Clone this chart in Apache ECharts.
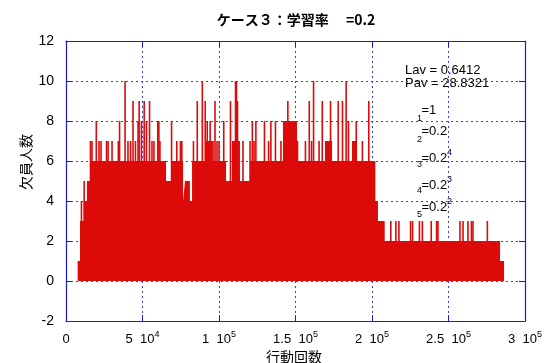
<!DOCTYPE html>
<html>
<head>
<meta charset="utf-8">
<script src="https://cdn.jsdelivr.net/npm/echarts@6/dist/echarts.min.js"></script>
<style>
  html, body { margin: 0; padding: 0; background: #fff; }
  #chart { width: 549px; height: 363px; }
</style>
</head>
<body>
<div id="chart"></div>
<script>
// Solid band of vacancies: level held from each step until the next one
const baseStep = [7600, 9150, 11600, 13700, 15700, 65400, 68600, 76500, 77800, 81000,
  82400, 90900, 95700, 104600, 108500, 113700, 120300, 141800, 151000, 169300,
  173900, 186900, 190200, 202200, 203900, 208300, 283700, 286300];
const baseLevel = [1, 3, 4, 5, 6, 5, 6, 4, 5, 4,
  6, 7, 6, 5, 7, 5, 6, 8, 6, 7,
  6, 7, 6, 4, 3, 2, 1, 1];

// Isolated peaks rising above the band
const spikeStep = [10100, 11900, 16000, 17000, 19800, 21600, 22900, 26500, 27500, 30100,
  34200, 35000, 38600, 40500, 42200, 43800, 45400, 47100, 47800, 49300,
  51100, 52600, 54600, 56200, 57500, 60000, 60700, 61400, 69000, 72400,
  74800, 75700, 83300, 85800, 89100, 91000, 92300, 94200, 95100, 96100,
  97400, 98700, 100000, 103100, 107500, 110800, 111400, 112100, 115700, 120300,
  121800, 122900, 124100, 129700, 132400, 133900, 136900, 140500, 145000, 151300,
  156500, 159000, 160500, 161800, 165400, 167500, 172900, 177900, 180700, 183100,
  184600, 189700, 193700, 197900, 212300, 215600, 217600, 225200, 226500, 231000,
  232900, 238700, 242200, 243100, 257500, 259500, 262700, 265000, 266000, 275400];
const spikeValue = [4, 5, 7, 7, 8, 7, 7, 7, 7, 7,
  7, 8, 10, 7, 7, 9, 7, 8, 9, 8,
  9, 8, 9, 7, 7, 8, 8, 7, 8, 7,
  7, 7, 7, 9, 10, 9, 8, 8, 7, 7,
  9, 7, 7, 8, 9, 10, 10, 9, 7, 7,
  8, 7, 8, 8, 7, 8, 8, 7, 9, 7,
  7, 9, 7, 10, 7, 9, 9, 9, 9, 10,
  8, 8, 7, 9, 3, 3, 3, 3, 3, 3,
  3, 3, 3, 3, 3, 3, 3, 3, 3, 3];

// Tick labels: mantissa and power of ten
const xTickMant = ['0', '5', '1', '1.5', '2', '2.5', '3'];
const xTickExp = ['', '4', '5', '5', '5', '5', '5'];
const yTicks = [-2, 0, 2, 4, 6, 8, 10, 12];

const titleText = 'ケース３：学習率　 =0.2';
const xName = '行動回数';
const yName = '欠員人数';
const statLines = ['Lav = 0.6412', 'Pav = 28.8321'];
const paramSub = ['1', '2', '3', '4', '5'];
const paramVal = ['=1', '=0.2', '=0.2', '=0.2', '=0.2'];
const paramPow = ['', '', '4', '3', '2'];

const RED = '#dd0a0a';
const BLUE = '#1a1ad6';
const GRID = '#3a3ae6';
const LATIN = '"Liberation Sans", Arial, sans-serif';
const CJK = '"Noto Sans CJK JP", sans-serif';

const chart = echarts.init(document.getElementById('chart'), null, { renderer: 'canvas' });

const baseData = baseStep.map((s, i) => [s, baseLevel[i]]);
const spikeData = spikeStep.map((s, i) => [s, spikeValue[i]]);

const axisCommon = {
  type: 'value',
  axisLine: { show: true, onZero: false, lineStyle: { color: BLUE, width: 1.2 } },
  axisTick: { show: true, inside: true, length: 6, lineStyle: { color: BLUE } },
};

// Parameter legend drawn as plain text with sub/superscripts
const paramY = [110, 131, 158, 185, 207];
const subY = [119, 140, 164.5, 190.5, 214.5];
const graphics = [];
graphics.push({ type: 'text', x: 296, y: 20, style: {
  text: titleText, font: 'bold 14px ' + CJK, fill: '#000', align: 'center', verticalAlign: 'middle' } });
graphics.push({ type: 'text', x: 294, y: 357, style: {
  text: xName, font: '14px ' + CJK, fill: '#000', align: 'center', verticalAlign: 'middle' } });
graphics.push({ type: 'text', x: 26, y: 162, rotation: Math.PI / 2, style: {
  text: yName, font: '14px ' + CJK, fill: '#000', align: 'center', verticalAlign: 'middle' } });
statLines.forEach((t, i) => {
  graphics.push({ type: 'text', x: 405, y: 70 + i * 13.5, style: {
    text: t, font: '13px ' + LATIN, fill: '#000', verticalAlign: 'middle' } });
});
paramVal.forEach((t, i) => {
  graphics.push({ type: 'text', x: 417, y: subY[i], style: {
    text: paramSub[i], font: '9px ' + LATIN, fill: '#000', verticalAlign: 'middle' } });
  graphics.push({ type: 'text', x: 421.5, y: paramY[i], style: {
    text: t, font: '13px ' + LATIN, fill: '#000', verticalAlign: 'middle' } });
  if (paramPow[i]) {
    graphics.push({ type: 'text', x: 447, y: paramY[i] - 5, style: {
      text: paramPow[i], font: '9px ' + LATIN, fill: '#000', verticalAlign: 'middle' } });
  }
});

chart.setOption({
  animation: false,
  backgroundColor: '#fff',
  grid: { left: 66, right: 24, top: 41, bottom: 42, containLabel: false },
  xAxis: [
    Object.assign({}, axisCommon, {
      position: 'bottom', min: 0, max: 300000, interval: 50000,
      splitLine: { show: true, lineStyle: { color: GRID, type: [2, 3], width: 1 } },
      axisLabel: {
        margin: 9,
        formatter: (v) => {
          const k = Math.round(v / 50000);
          return xTickExp[k] ? '{b|' + xTickMant[k] + '  10}{s|' + xTickExp[k] + '}' : '{b|' + xTickMant[k] + '}';
        },
        rich: {
          b: { fontFamily: LATIN, fontSize: 13, lineHeight: 16, color: '#000', verticalAlign: 'bottom' },
          s: { fontFamily: LATIN, fontSize: 9, lineHeight: 10, color: '#000', verticalAlign: 'top' }
        }
      }
    }),
    Object.assign({}, axisCommon, {
      position: 'top', min: 0, max: 300000, interval: 50000,
      splitLine: { show: false }, axisLabel: { show: false }
    })
  ],
  yAxis: [
    Object.assign({}, axisCommon, {
      position: 'left', min: yTicks[0], max: yTicks[yTicks.length - 1], interval: 2,
      splitLine: { show: true, lineStyle: { color: GRID, type: [2, 3], width: 1 } },
      axisLabel: { margin: 12, color: '#000', fontFamily: LATIN, fontSize: 14 }
    }),
    Object.assign({}, axisCommon, {
      position: 'right', min: yTicks[0], max: yTicks[yTicks.length - 1], interval: 2,
      splitLine: { show: false }, axisLabel: { show: false }
    })
  ],
  series: [
    {
      type: 'line', step: 'end', data: baseData, symbol: 'none',
      lineStyle: { width: 0, color: RED }, areaStyle: { color: RED, opacity: 1 },
      xAxisIndex: 0, yAxisIndex: 0, zlevel: 1
    },
    {
      type: 'custom', data: spikeData, xAxisIndex: 0, yAxisIndex: 0, zlevel: 1,
      encode: { x: 0, y: 1 },
      renderItem: (params, api) => {
        const top = api.coord([api.value(0), api.value(1)]);
        const bot = api.coord([api.value(0), 0]);
        return { type: 'rect', shape: { x: top[0] - 0.8, y: top[1], width: 1.6, height: bot[1] - top[1] },
          style: { fill: RED } };
      }
    }
  ],
  graphic: graphics
});
</script>
</body>
</html>
